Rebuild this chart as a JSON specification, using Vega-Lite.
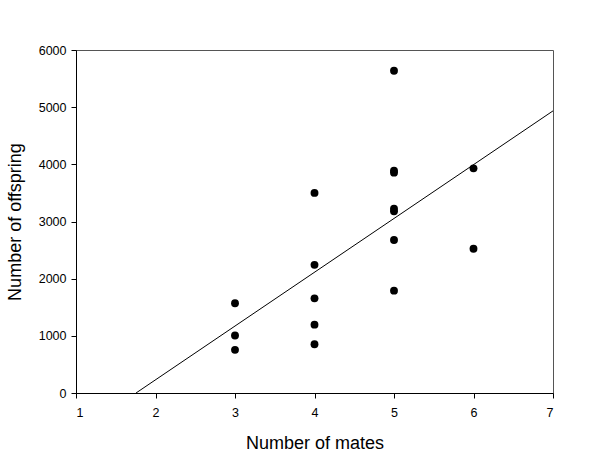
{
  "$schema": "https://vega.github.io/schema/vega-lite/v6.json",
  "autosize": "none",
  "padding": {"left": 76, "top": 50, "right": 47, "bottom": 62},
  "width": 477,
  "height": 343,
  "background": "white",
  "config": {
    "view": {"stroke": "#555555", "strokeWidth": 1},
    "axis": {
      "grid": false,
      "domainColor": "black",
      "tickColor": "black",
      "tickSize": 5,
      "labelFont": "Liberation Sans",
      "labelFontSize": 12.5,
      "labelColor": "black",
      "titleFont": "Liberation Sans",
      "titleFontSize": 18,
      "titleFontWeight": "normal",
      "titleColor": "black"
    }
  },
  "layer": [
    {
      "data": {"values": [
        {"mates": 3, "offspring": 1570},
        {"mates": 3, "offspring": 1005},
        {"mates": 3, "offspring": 755},
        {"mates": 4, "offspring": 3500},
        {"mates": 4, "offspring": 2242},
        {"mates": 4, "offspring": 1656},
        {"mates": 4, "offspring": 1196},
        {"mates": 4, "offspring": 853},
        {"mates": 5, "offspring": 5638},
        {"mates": 5, "offspring": 3887},
        {"mates": 5, "offspring": 3854},
        {"mates": 5, "offspring": 3222},
        {"mates": 5, "offspring": 3178},
        {"mates": 5, "offspring": 2676},
        {"mates": 5, "offspring": 1790},
        {"mates": 6, "offspring": 3930},
        {"mates": 6, "offspring": 2524}
      ]},
      "mark": {"type": "point", "filled": true, "color": "black", "size": 62, "opacity": 1},
      "encoding": {
        "x": {"field": "mates", "type": "quantitative", "title": "Number of mates",
              "scale": {"domain": [1, 7], "nice": false},
              "axis": {"values": [1, 2, 3, 4, 5, 6, 7], "format": "d", "labelPadding": 8, "titlePadding": 16}},
        "y": {"field": "offspring", "type": "quantitative", "title": "Number of offspring",
              "scale": {"domain": [0, 6000], "nice": false},
              "axis": {"values": [0, 1000, 2000, 3000, 4000, 5000, 6000], "format": "d", "labelPadding": 5, "titlePadding": 14}}
      }
    },
    {
      "data": {"values": [
        {"mates": 1.755, "offspring": 0},
        {"mates": 7, "offspring": 4935}
      ]},
      "mark": {"type": "line", "color": "black", "strokeWidth": 1},
      "encoding": {
        "x": {"field": "mates", "type": "quantitative"},
        "y": {"field": "offspring", "type": "quantitative"}
      }
    }
  ]
}
